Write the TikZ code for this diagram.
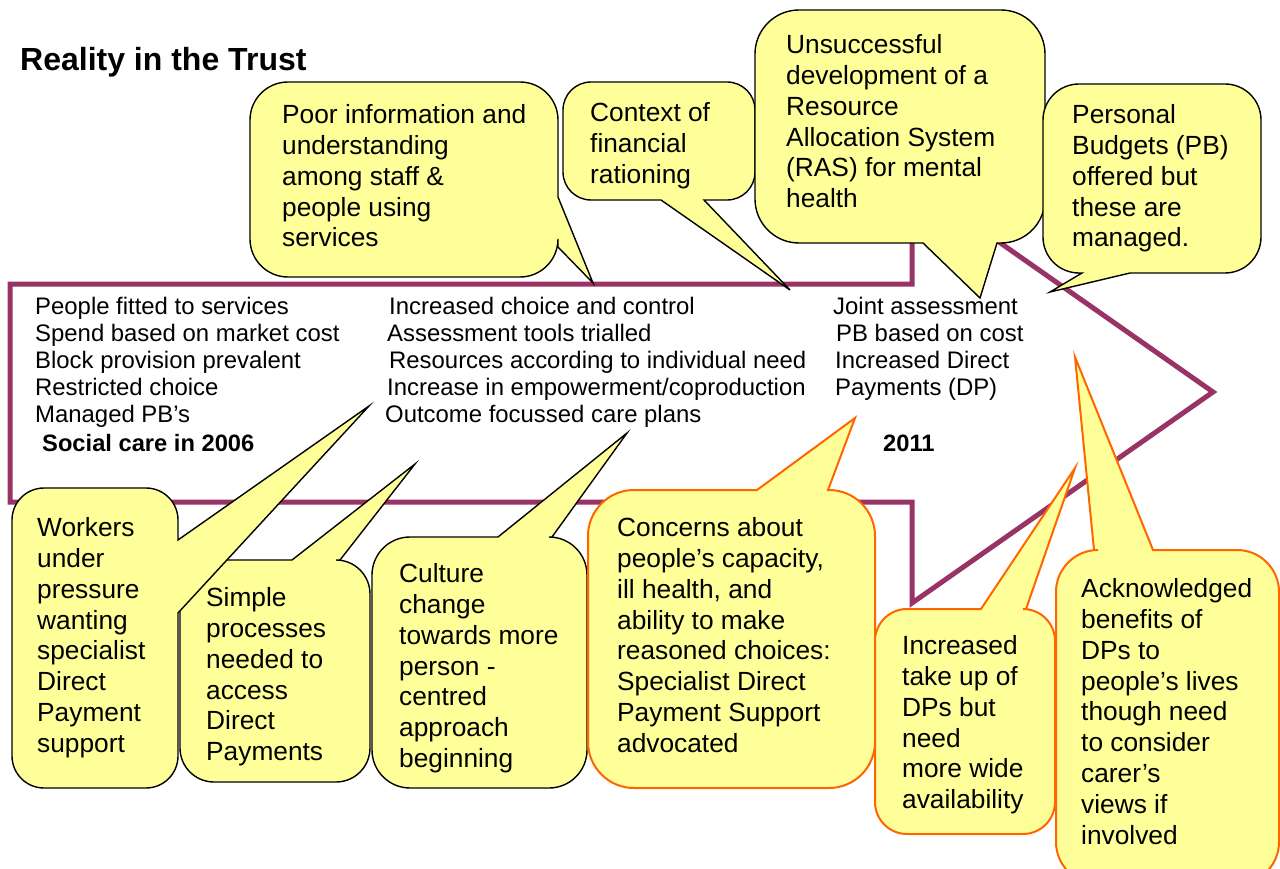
\documentclass[tikz,border=0pt]{standalone}
\usepackage{fontspec}
\setmainfont{Liberation Sans}
\definecolor{trustpurple}{HTML}{993366}
\definecolor{bubfill}{HTML}{FFFF99}
\definecolor{bubedge}{HTML}{FF6600}
% Rounded speech bubble: style, x1, y1, x2, y2, corner radius,
% then path pieces inserted on the top, right and bottom edges (the tail).
\newcommand\bubble[9]{%
  \path[#1] (#2+#6,#3) #7 -- (#4-#6,#3)
    arc[start angle=-90,end angle=0,radius=#6] #8 -- (#4,#5-#6)
    arc[start angle=0,end angle=90,radius=#6] #9 -- (#2+#6,#5)
    arc[start angle=90,end angle=180,radius=#6] -- (#2,#3+#6)
    arc[start angle=180,end angle=270,radius=#6] -- cycle;}
\tikzset{
  blackbub/.style={fill=bubfill, draw=black, line width=1.4pt, line join=miter},
  orangebub/.style={fill=bubfill, draw=bubedge, line width=2pt, line join=miter},
  timeline/.style={draw=trustpurple, line width=5pt, line join=miter},
  bubtxt/.style={anchor=north west, inner sep=0pt, align=left,
    font=\fontsize{26.3}{30.8}\selectfont},
  arrtxt/.style={anchor=north west, inner sep=0pt, align=left,
    font=\fontsize{23.9}{27.2}\selectfont},
  yeartxt/.style={anchor=base west, inner sep=0pt,
    font=\fontsize{23.7}{27.2}\selectfont\bfseries},
}
\begin{document}
\begin{tikzpicture}[x=1pt,y=-1pt]
\useasboundingbox (0,0) rectangle (1280,869);
\clip (0,0) rectangle (1280,869);
\fill[white] (0,0) rectangle (1280,869);

% title
\node[anchor=base west, inner sep=0pt, font=\fontsize{32}{36}\selectfont\bfseries]
  (title) at (20,71) {Reality in the Trust};

% the big timeline arrow
\draw[timeline] (10,284) -- (912,284) -- (912,181) -- (1213,392)
  -- (912,603) -- (912,502) -- (10,502) -- cycle;

% text inside the arrow
\node[arrtxt] (past) at (35,296.5) {People fitted to services\\Spend based on market cost\\Block provision prevalent\\Restricted choice\\Managed PB’s};
\node[yeartxt] (y2006) at (42,451.5) {Social care in 2006};
\node[arrtxt] (change) at (385,296.5) {\hspace*{4pt}Increased choice and control\\\hspace*{2pt}Assessment tools trialled\\\hspace*{4pt}Resources according to individual need\\\hspace*{2pt}Increase in empowerment/coproduction\\Outcome focussed care plans};
\node[arrtxt] (now) at (833,296.5) {Joint assessment\\\hspace*{3pt}PB based on cost\\\hspace*{2pt}Increased Direct\\\hspace*{2pt}Payments (DP)};
\node[yeartxt] (y2011) at (883,451.5) {2011};

% bubbles above the arrow
\bubble{blackbub}{250}{82}{558}{277}{38}{}{-- (558,197) -- (593,283) -- (558,247)}{}
\node[bubtxt] (poorinfo) at (282,104.5) {Poor information and\\understanding\\among staff \&\\people using\\services};

\bubble{blackbub}{563}{82}{755}{200}{28}{}{}{-- (704,200) -- (790,290) -- (661,200)}
\node[bubtxt] (rationing) at (590,102.5) {Context of\\financial\\rationing};

\bubble{blackbub}{755}{10}{1045}{243}{44}{}{}{-- (997,243) -- (980,298) -- (923,243)}
\node[bubtxt] (ras) at (786,34.5) {Unsuccessful\\development of a\\Resource\\Allocation System\\(RAS) for mental\\health};

\bubble{blackbub}{1043}{84}{1261}{273}{36}{}{}{-- (1130,273) -- (1050,292) -- (1082,273)}
\node[bubtxt] (budgets) at (1072,104.5) {Personal\\Budgets (PB)\\offered but\\these are\\managed.};

% bubbles below the arrow
\bubble{blackbub}{180}{560}{370}{782}{34}{-- (292,560) -- (415,464) -- (340,560)}{}{}
\node[bubtxt] (simple) at (206,587.5) {Simple\\processes\\needed to\\access\\Direct\\Payments};

\bubble{blackbub}{12}{488}{178}{788}{32}{}{-- (178,540) -- (369,406) -- (178,613)}{}
\node[bubtxt] (workers) at (37,517.5) {Workers\\under\\pressure\\wanting\\specialist\\Direct\\Payment\\support};

\bubble{blackbub}{372}{537}{587}{788}{38}{-- (498,537) -- (627,433) -- (552,537)}{}{}
\node[bubtxt] (culture) at (399,563.5) {Culture\\change\\towards more\\person -\\centred\\approach\\beginning};

\bubble{orangebub}{588}{490}{875}{788}{46}{-- (757,490) -- (855,418) -- (828,490)}{}{}
\node[bubtxt] (concerns) at (617,517.5) {Concerns about\\people’s capacity,\\ill health, and\\ability to make\\reasoned choices:\\Specialist Direct\\Payment Support\\advocated};

\bubble{orangebub}{875}{609}{1055}{834}{32}{-- (981,609) -- (1075,468) -- (1026,609)}{}{}
\node[bubtxt] (takeup) at (902,635.5) {Increased\\take up of\\DPs but\\need\\more wide\\availability};

\bubble{orangebub}{1056}{550}{1279}{884}{42}{-- (1094,550) -- (1075,357) -- (1153,550)}{}{}
\node[bubtxt] (benefits) at (1081,578.5) {Acknowledged\\benefits of\\DPs to\\people’s lives\\though need\\to consider\\carer’s\\views if\\involved};
\end{tikzpicture}
\end{document}
